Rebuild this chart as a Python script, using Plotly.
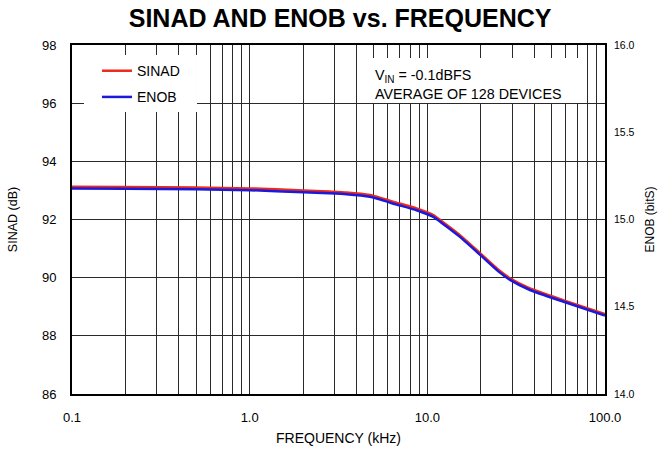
import plotly.graph_objects as go

freq_khz = [0.1, 0.2, 0.5, 1.0, 2.0, 2.8, 3.5, 4.75, 6.7, 8.7, 10.8, 12.0, 15.2, 19.4, 25.0, 29.2, 37.8, 58.0, 100.0]
sinad_db = [93.13, 93.12, 93.10, 93.07, 93.00, 92.96, 92.93, 92.84, 92.58, 92.38, 92.15, 91.95, 91.47, 90.89, 90.28, 89.98, 89.63, 89.23, 88.75]
enob_bits = [15.178, 15.176, 15.173, 15.168, 15.156, 15.150, 15.145, 15.130, 15.086, 15.053, 15.015, 14.982, 14.902, 14.806, 14.704, 14.654, 14.596, 14.530, 14.450]

x_major = [0.1, 1, 10, 100]
x_major_text = ["0.1", "1.0", "10.0", "100.0"]
x_minor = [0.2, 0.3, 0.4, 0.5, 0.6, 0.7, 0.8, 0.9,
           2, 3, 4, 5, 6, 7, 8, 9,
           20, 30, 40, 50, 60, 70, 80, 90]

left_ticks = [86, 88, 90, 92, 94, 96, 98]
right_ticks = [14.0, 14.5, 15.0, 15.5, 16.0]

FONT = "Arial, Liberation Sans, Helvetica, sans-serif"
GRID = "#2a2a2a"

fig = go.Figure()
fig.add_trace(go.Scatter(x=freq_khz, y=sinad_db, name="SINAD", mode="lines", legendgroup="a",
                         line=dict(color="#ee2a1a", width=2.5, shape="spline", smoothing=0.5)))
fig.add_trace(go.Scatter(x=freq_khz, y=enob_bits, name="ENOB", mode="lines", yaxis="y2", legendgroup="b",
                         line=dict(color="#1a1adf", width=2.5, shape="spline", smoothing=0.5)))

fig.update_layout(
    width=663, height=453,
    margin=dict(l=72, r=58, t=45, b=59, autoexpand=False),
    paper_bgcolor="white", plot_bgcolor="white",
    font=dict(family=FONT, color="black", size=13),
    title=dict(text="<b>SINAD AND ENOB vs. FREQUENCY</b>", x=0.513, xanchor="center",
               y=1 - 18 / 453, yanchor="middle", yref="container",
               font=dict(size=25, family=FONT, color="black")),
    xaxis=dict(type="log", range=[-1, 2], tickvals=x_major, ticktext=x_major_text,
               showgrid=True, gridcolor=GRID, gridwidth=1,
               minor=dict(tickvals=x_minor, showgrid=True, gridcolor=GRID, gridwidth=1, ticks=""),
               showline=True, linecolor="black", linewidth=2, mirror=True,
               ticks="", tickfont=dict(size=13), zeroline=False, ticklabelstandoff=10,
               title=dict(text="FREQUENCY (kHz)", font=dict(size=14), standoff=10)),
    yaxis=dict(range=[86, 98], tickvals=left_ticks, showgrid=True, gridcolor=GRID, gridwidth=1,
               showline=True, linecolor="black", linewidth=2, mirror=True,
               ticks="", tickfont=dict(size=13), zeroline=False, ticklabelstandoff=11,
               title=dict(text="SINAD (dB)", font=dict(size=12.5), standoff=22)),
    yaxis2=dict(range=[14, 16], tickvals=right_ticks, tickformat=".1f", overlaying="y", side="right",
                showgrid=False, zeroline=False, ticks="", tickfont=dict(size=10.5), ticklabelstandoff=8,
                title=dict(text="ENOB (bitS)", font=dict(size=12), standoff=12)),
    legend=dict(x=0.0469, y=0.971, xanchor="left", yanchor="top", bgcolor="rgba(0,0,0,0)",
                borderwidth=0, font=dict(size=14), tracegroupgap=5, itemwidth=30),
    showlegend=True,
)

# white panels behind the legend and the note (they hide the grid like the original)
fig.add_shape(type="rect", xref="paper", yref="paper", x0=0.0225, x1=0.2345, y0=0.808, y1=0.9713,
              fillcolor="white", line=dict(width=0), layer="above")
fig.add_shape(type="rect", xref="paper", yref="paper", x0=0.563, x1=0.9606, y0=0.834, y1=0.963,
              fillcolor="white", line=dict(width=0), layer="above")

fig.add_annotation(xref="paper", yref="paper", x=0.5666, y=0.888, xanchor="left", yanchor="middle",
                   showarrow=False, align="left", borderpad=0,
                   text="V<sub>IN</sub> = -0.1dBFS<br>AVERAGE OF 128 DEVICES",
                   font=dict(size=14.3, family=FONT, color="black"))

fig.write_html("out.html", config={"displayModeBar": False},
               post_script="document.body.style.margin='0';")
